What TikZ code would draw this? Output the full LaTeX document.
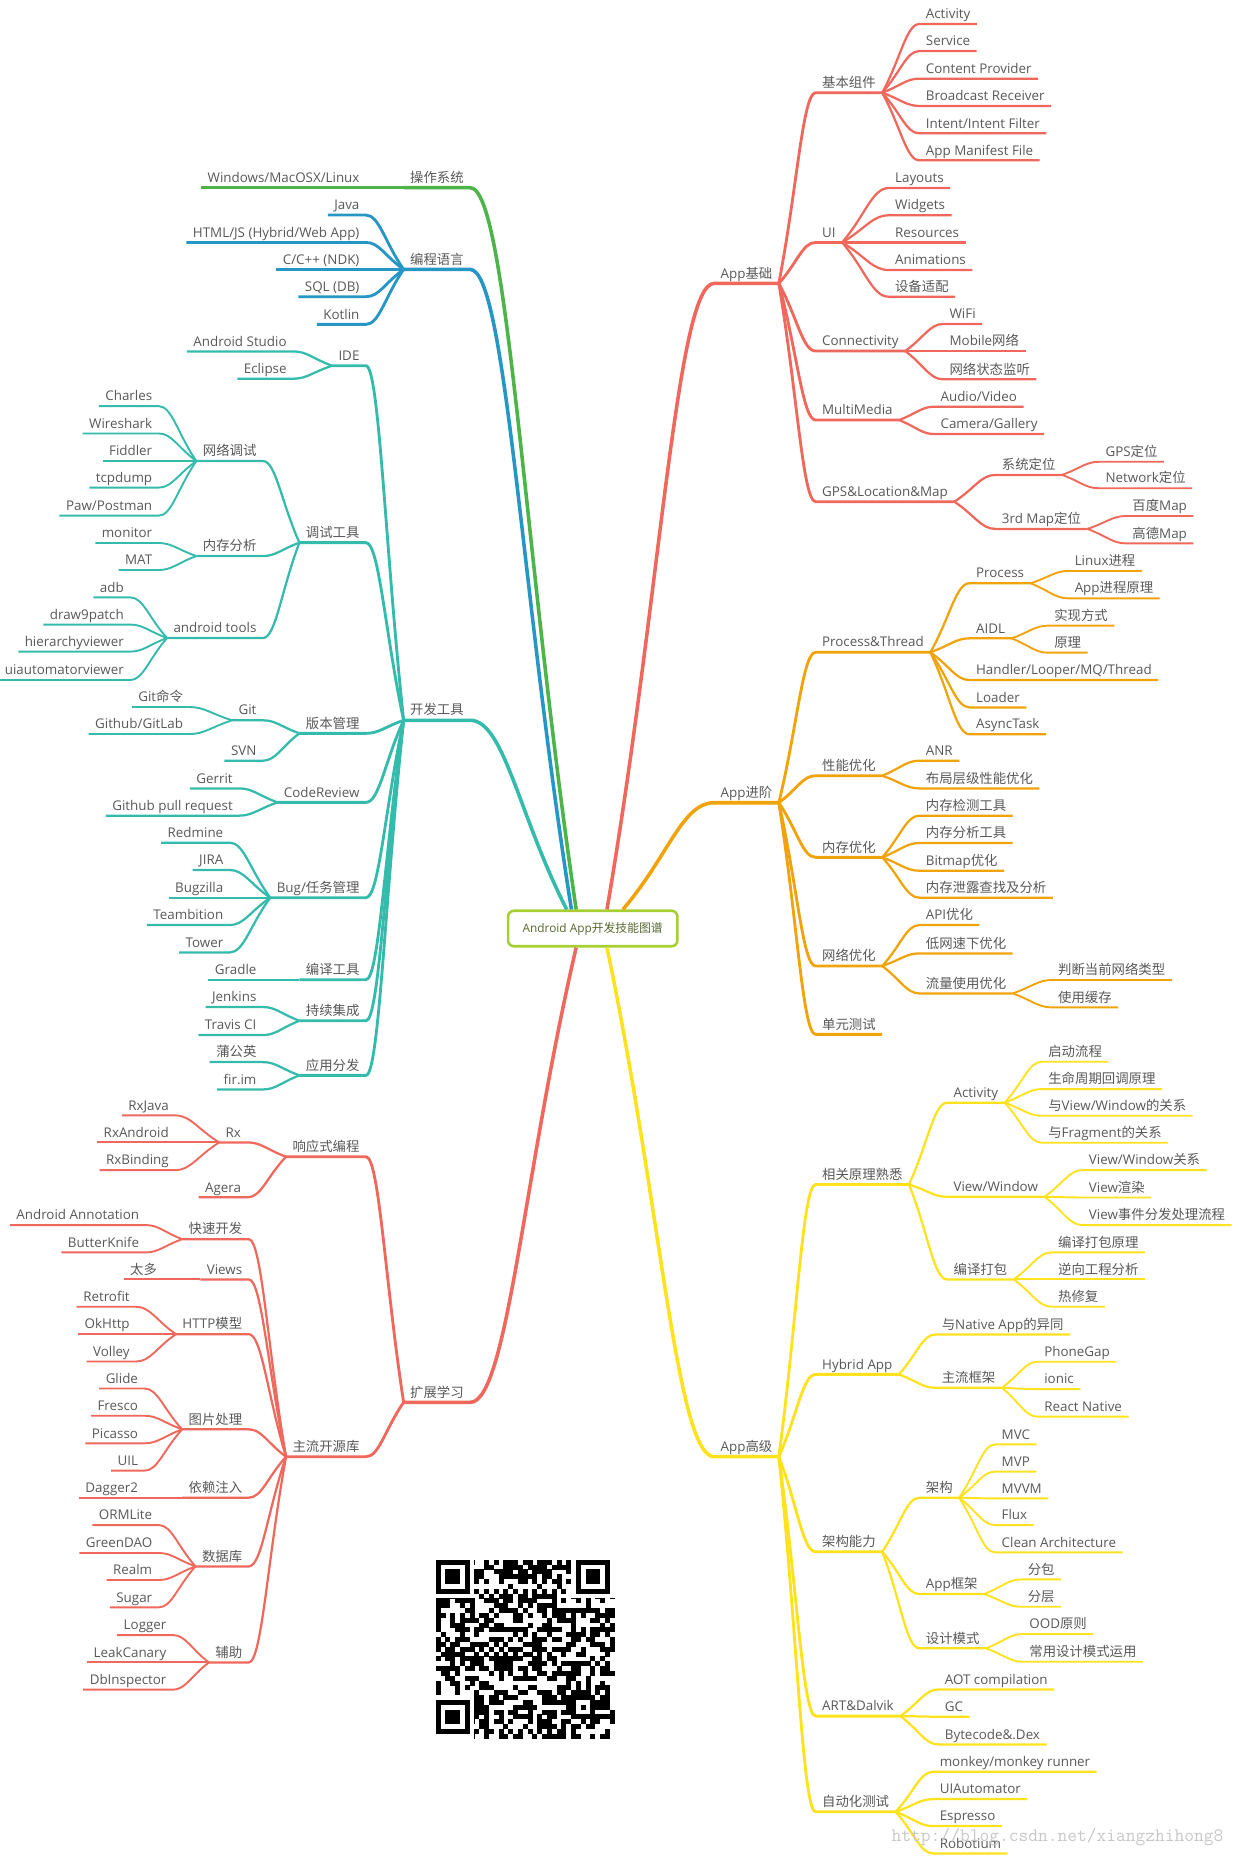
\documentclass[tikz,border=0pt]{standalone}
\usepackage{fontspec}
\setmainfont{Open Sans}
\newfontfamily\latinfont{Open Sans}
\newfontfamily\cjkfont{Noto Sans CJK SC}
\usetikzlibrary{calc}

% Chinese runs switch to the CJK font by themselves
\newXeTeXintercharclass\CJKclass
\newcount\charcnt
\charcnt="4E00
\loop\ifnum\charcnt<"A000
  \XeTeXcharclass\charcnt=\CJKclass
  \advance\charcnt by 1
\repeat
\charcnt=32
\loop\ifnum\charcnt<127
  \XeTeXcharclass\charcnt=0
  \advance\charcnt by 1
\repeat
\XeTeXinterchartoks 0 \CJKclass = {\cjkfont}
\XeTeXinterchartoks 4095 \CJKclass = {\cjkfont}
\XeTeXinterchartoks \CJKclass 0 = {\latinfont}
\XeTeXinterchartokenstate=1

\definecolor{cred}{RGB}{240,104,92}
\definecolor{corange}{RGB}{240,163,10}
\definecolor{cyellow}{RGB}{255,226,30}
\definecolor{cgreen}{RGB}{76,180,72}
\definecolor{cblue}{RGB}{38,150,196}
\definecolor{cteal}{RGB}{52,187,172}
\definecolor{boxgreen}{RGB}{166,208,50}
\definecolor{boxtext}{RGB}{88,104,48}
\definecolor{labelgray}{RGB}{88,88,88}

\tikzset{
  lbl/.style={inner xsep=5.5pt, inner ysep=4.5pt, outer sep=0pt, text depth=0pt,
    text=labelgray, font=\fontsize{11.3}{13}\selectfont},
  rn/.style={lbl, anchor=south west},
  ln/.style={lbl, anchor=south east},
  root/.style={draw=boxgreen, line width=2.2pt, rounded corners=5pt, fill=white,
    minimum width=143pt, minimum height=30pt, text=boxtext,
    font=\fontsize{10}{12}\selectfont},
  br1/.style={line width=3pt, line join=round},
  br2/.style={line width=2.4pt, line join=round},
  br3/.style={line width=1.9pt, line join=round},
  br4/.style={line width=1.6pt, line join=round},
  link/.style={to path={let \p1=(\tikztostart), \p2=(\tikztotarget) in
    .. controls ({(\x1+\x2)/2},{(\y1+\y2)/2}) and ({\x1+0.65*(\x2-\x1)},\y2) .. (\tikztotarget)}}
}

\begin{document}
\begin{tikzpicture}[x=1pt, y=-1pt]
\useasboundingbox (0,0) rectangle (1047,1568);

\node[root] (ctr) at (500.5,784) {Android App开发技能图谱};

% App基础
\node[rn] (base) at (603,239.3) {App基础};
\node[rn] (comp) at (688.7,78.3) {基本组件};
\node[rn] (ui) at (688.7,204.7) {UI};
\node[rn] (conn) at (688.7,296.4) {Connectivity};
\node[rn] (media) at (688.7,354.7) {MultiMedia};
\node[rn] (gps) at (688.7,423.6) {GPS\&Location\&Map};
\node[rn] (act) at (776.3,20.3) {Activity};
\node[rn] (svc) at (776.3,43.1) {Service};
\node[rn] (cp) at (776.3,66.4) {Content Provider};
\node[rn] (bcast) at (776.3,89.5) {Broadcast Receiver};
\node[rn] (intent) at (776.3,112.6) {Intent/Intent Filter};
\node[rn] (manifest) at (776.3,135.4) {App Manifest File};
\node[rn] (layouts) at (750.3,158.8) {Layouts};
\node[rn] (widgets) at (750.3,181.8) {Widgets};
\node[rn] (res) at (750.3,204.7) {Resources};
\node[rn] (anim) at (750.3,228) {Animations};
\node[rn] (adapt) at (750.3,250.5) {设备适配};
\node[rn] (wifi) at (796.3,273.6) {WiFi};
\node[rn] (mobile) at (796.3,296.4) {Mobile网络};
\node[rn] (netlisten) at (796.3,320.3) {网络状态监听};
\node[rn] (av) at (788.7,343.4) {Audio/Video};
\node[rn] (camera) at (788.7,366.5) {Camera/Gallery};
\node[rn] (sysloc) at (840.5,401) {系统定位};
\node[rn] (mapsdk) at (840.5,446.6) {3rd Map定位};
\node[rn] (gpsloc) at (928,389.9) {GPS定位};
\node[rn] (netloc) at (928,412.3) {Network定位};
\node[rn] (baidu) at (950.7,435.7) {百度Map};
\node[rn] (gaode) at (950.7,458.8) {高德Map};

% App进阶
\node[rn] (adv) at (603,677.8) {App进阶};
\node[rn] (pt) at (688.7,550.8) {Process\&Thread};
\node[rn] (perf) at (688.7,655) {性能优化};
\node[rn] (mem) at (688.7,723.9) {内存优化};
\node[rn] (net) at (688.7,815.7) {网络优化};
\node[rn] (unit) at (688.7,873.4) {单元测试};
\node[rn] (proc) at (818.7,492.5) {Process};
\node[rn] (aidl) at (818.7,539) {AIDL};
\node[rn] (handler) at (818.7,574.2) {Handler/Looper/MQ/Thread};
\node[rn] (loader) at (818.7,597.3) {Loader};
\node[rn] (async) at (818.7,620) {AsyncTask};
\node[rn] (linuxp) at (902,482.1) {Linux进程};
\node[rn] (appp) at (902,505.2) {App进程原理};
\node[rn] (aidlimpl) at (884.7,528.3) {实现方式};
\node[rn] (aidlbase) at (884.7,551.1) {原理};
\node[rn] (anr) at (776.3,642.3) {ANR};
\node[rn] (layer) at (776.3,665.7) {布局层级性能优化};
\node[rn] (memdet) at (776.3,688.7) {内存检测工具};
\node[rn] (memana) at (776.3,711.8) {内存分析工具};
\node[rn] (bitmap) at (776.3,735.2) {Bitmap优化};
\node[rn] (leak) at (776.3,758) {内存泄露查找及分析};
\node[rn] (api) at (776.3,781.1) {API优化};
\node[rn] (lowspeed) at (776.3,805) {低网速下优化};
\node[rn] (traffic) at (776.3,838.8) {流量使用优化};
\node[rn] (nettype) at (888,827.5) {判断当前网络类型};
\node[rn] (cache) at (888,850.6) {使用缓存};

% App高级
\node[rn] (pro) at (603,1230) {App高级};
\node[rn] (theory) at (688.7,1000.1) {相关原理熟悉};
\node[rn] (hybrid) at (688.7,1160.5) {Hybrid App};
\node[rn] (arch) at (688.7,1310.2) {架构能力};
\node[rn] (art) at (688.7,1449) {ART\&Dalvik};
\node[rn] (autotest) at (688.7,1529.8) {自动化测试};
\node[rn] (tact) at (799.7,931.1) {Activity};
\node[rn] (tview) at (799.7,1010.5) {View/Window};
\node[rn] (pack) at (799.7,1080.3) {编译打包};
\node[rn] (launch) at (879.7,896.5) {启动流程};
\node[rn] (lifecycle) at (879.7,919.6) {生命周期回调原理};
\node[rn] (actview) at (879.7,942.1) {与View/Window的关系};
\node[rn] (actfrag) at (879.7,964.9) {与Fragment的关系};
\node[rn] (vwrel) at (914,988) {View/Window关系};
\node[rn] (vrender) at (914,1011.1) {View渲染};
\node[rn] (vevent) at (914,1034.4) {View事件分发处理流程};
\node[rn] (packbase) at (888,1057.5) {编译打包原理};
\node[rn] (reverse) at (888,1080.3) {逆向工程分析};
\node[rn] (hotfix) at (888,1103.4) {热修复};
\node[rn] (native) at (789.7,1126.8) {与Native App的异同};
\node[rn] (hfw) at (789.7,1171.8) {主流框架};
\node[rn] (phonegap) at (876.3,1149.8) {PhoneGap};
\node[rn] (ionic) at (876.3,1172.9) {ionic};
\node[rn] (reactnative) at (876.3,1196.2) {React Native};
\node[rn] (archpat) at (776.3,1264.6) {架构};
\node[rn] (appfw) at (776.3,1346) {App框架};
\node[rn] (dp) at (776.3,1391.8) {设计模式};
\node[rn] (mvc) at (840.3,1219.6) {MVC};
\node[rn] (mvp) at (840.3,1242.6) {MVP};
\node[rn] (mvvm) at (840.3,1265.2) {MVVM};
\node[rn] (flux) at (840.3,1287.7) {Flux};
\node[rn] (clean) at (840.3,1310.8) {Clean Architecture};
\node[rn] (subpkg) at (862.3,1333.6) {分包};
\node[rn] (sublayer) at (862.3,1356.7) {分层};
\node[rn] (ood) at (863.7,1379.7) {OOD原则};
\node[rn] (patterns) at (863.7,1403.1) {常用设计模式运用};
\node[rn] (aot) at (792.3,1426.5) {AOT compilation};
\node[rn] (gc) at (792.3,1449.5) {GC};
\node[rn] (dex) at (792.3,1472.9) {Bytecode\&.Dex};
\node[rn] (monkey) at (788,1496) {monkey/monkey runner};
\node[rn] (uiauto) at (788,1519.1) {UIAutomator};
\node[rn] (espresso) at (788,1541.9) {Espresso};
\node[rn] (robotium) at (788,1565) {Robotium};

% 操作系统, 编程语言
\node[ln] (os) at (397,158.5) {操作系统};
\node[ln] (oslist) at (309,158.5) {Windows/MacOSX/Linux};
\node[ln] (lang) at (397,227.5) {编程语言};
\node[ln] (java) at (309,181.6) {Java};
\node[ln] (html) at (309,204.7) {HTML/JS (Hybrid/Web App)};
\node[ln] (cpp) at (309,227.5) {C/C++ (NDK)};
\node[ln] (sql) at (309,250.5) {SQL (DB)};
\node[ln] (kotlin) at (309,273.9) {Kotlin};

% 开发工具
\node[ln] (tools) at (397,608.2) {开发工具};
\node[ln] (ide) at (309,308.8) {IDE};
\node[ln] (debug) at (309,458.2) {调试工具};
\node[ln] (vcs) at (309,619.2) {版本管理};
\node[ln] (review) at (309,677.5) {CodeReview};
\node[ln] (bugs) at (309,758) {Bug/任务管理};
\node[ln] (buildtool) at (309,827.2) {编译工具};
\node[ln] (ci) at (309,861.9) {持续集成};
\node[ln] (dist) at (309,908) {应用分发};
\node[ln] (studio) at (247.5,296.7) {Android Studio};
\node[ln] (eclipse) at (247.5,319.8) {Eclipse};
\node[ln] (netdbg) at (222,389.3) {网络调试};
\node[ln] (memdbg) at (222,469.5) {内存分析};
\node[ln] (atools) at (222,538.7) {android tools};
\node[ln] (charles) at (134,342.9) {Charles};
\node[ln] (wireshark) at (134,366) {Wireshark};
\node[ln] (fiddler) at (134,389.3) {Fiddler};
\node[ln] (tcpdump) at (134,411.7) {tcpdump};
\node[ln] (postman) at (134,435.4) {Paw/Postman};
\node[ln] (monitor) at (134,458.5) {monitor};
\node[ln] (mat) at (134,481.3) {MAT};
\node[ln] (adb) at (110,504.4) {adb};
\node[ln] (ninepatch) at (110,527.4) {draw9patch};
\node[ln] (hierarchy) at (110,550.2) {hierarchyviewer};
\node[ln] (uiviewer) at (110,574.2) {uiautomatorviewer};
\node[ln] (git) at (222,608.2) {Git};
\node[ln] (svn) at (222,642.3) {SVN};
\node[ln] (gitcmd) at (160,597) {Git命令};
\node[ln] (github) at (160,619.8) {Github/GitLab};
\node[ln] (gerrit) at (202,665.7) {Gerrit};
\node[ln] (pullreq) at (202,688.7) {Github pull request};
\node[ln] (redmine) at (194,711.5) {Redmine};
\node[ln] (jira) at (194,734.6) {JIRA};
\node[ln] (bugzilla) at (194,758) {Bugzilla};
\node[ln] (teambition) at (194,781.1) {Teambition};
\node[ln] (tower) at (194,804.2) {Tower};
\node[ln] (gradle) at (222,827.2) {Gradle};
\node[ln] (jenkins) at (222,850.3) {Jenkins};
\node[ln] (travis) at (222,874) {Travis CI};
\node[ln] (pgyer) at (222,896.8) {蒲公英};
\node[ln] (firim) at (222,919.9) {fir.im};

% 扩展学习
\node[ln] (ext) at (397,1184.1) {扩展学习};
\node[ln] (reactive) at (309,976.7) {响应式编程};
\node[ln] (libs) at (309,1230) {主流开源库};
\node[ln] (rx) at (209,964.6) {Rx};
\node[ln] (agera) at (209,1011) {Agera};
\node[ln] (rxjava) at (148,941.8) {RxJava};
\node[ln] (rxandroid) at (148,964.6) {RxAndroid};
\node[ln] (rxbinding) at (148,988) {RxBinding};
\node[ln] (fastdev) at (210,1046.3) {快速开发};
\node[ln] (views) at (210,1080.3) {Views};
\node[ln] (http) at (210,1126.5) {HTTP模型};
\node[ln] (img) at (210,1206.9) {图片处理};
\node[ln] (inject) at (210,1264.6) {依赖注入};
\node[ln] (db) at (210,1322.6) {数据库};
\node[ln] (helper) at (210,1403.7) {辅助};
\node[ln] (annot) at (123,1034.4) {Android Annotation};
\node[ln] (butter) at (123,1057.5) {ButterKnife};
\node[ln] (toomany) at (138,1080.3) {太多};
\node[ln] (retrofit) at (115,1103.4) {Retrofit};
\node[ln] (okhttp) at (115,1126.5) {OkHttp};
\node[ln] (volley) at (115,1149.6) {Volley};
\node[ln] (glide) at (122,1172.4) {Glide};
\node[ln] (fresco) at (122,1195.4) {Fresco};
\node[ln] (picasso) at (122,1218.7) {Picasso};
\node[ln] (uil) at (122,1241.8) {UIL};
\node[ln] (dagger) at (122,1264.6) {Dagger2};
\node[ln] (ormlite) at (134,1287.7) {ORMLite};
\node[ln] (greendao) at (134,1311.3) {GreenDAO};
\node[ln] (realm) at (134,1334.1) {Realm};
\node[ln] (sugar) at (134,1357.2) {Sugar};
\node[ln] (logger) at (146,1380.6) {Logger};
\node[ln] (leakcanary) at (146,1403.7) {LeakCanary};
\node[ln] (dbinsp) at (146,1426.7) {DbInspector};

% main branches
\draw[br1,cteal] ([xshift=-22pt]ctr.north) to[link] (tools.south east) -- (tools.south west);
\draw[br1,cblue] ([xshift=-18pt]ctr.north) to[link] (lang.south east) -- (lang.south west);
\draw[br1,cgreen] ([xshift=-14pt]ctr.north) to[link] (os.south east) -- (os.south west);
\draw[br1,cred] ([xshift=-14pt]ctr.south) to[link] (ext.south east) -- (ext.south west);
\draw[br1,cred] ([xshift=12pt]ctr.north) to[link] (base.south west) -- (base.south east);
\draw[br1,corange] ([xshift=25.5pt]ctr.north) to[link] (adv.south west) -- (adv.south east);
\draw[br1,cyellow] ([xshift=12pt]ctr.south) to[link] (pro.south west) -- (pro.south east);

% App基础 links
\foreach \c in {comp,ui,conn,media,gps}
  \draw[br2,cred] (base.south east) to[link] (\c.south west) -- (\c.south east);
\foreach \c in {act,svc,cp,bcast,intent,manifest}
  \draw[br3,cred] (comp.south east) to[link] (\c.south west) -- (\c.south east);
\foreach \c in {layouts,widgets,res,anim,adapt}
  \draw[br3,cred] (ui.south east) to[link] (\c.south west) -- (\c.south east);
\foreach \c in {wifi,mobile,netlisten}
  \draw[br3,cred] (conn.south east) to[link] (\c.south west) -- (\c.south east);
\foreach \c in {av,camera}
  \draw[br3,cred] (media.south east) to[link] (\c.south west) -- (\c.south east);
\foreach \c in {sysloc,mapsdk}
  \draw[br3,cred] (gps.south east) to[link] (\c.south west) -- (\c.south east);
\foreach \c in {gpsloc,netloc}
  \draw[br4,cred] (sysloc.south east) to[link] (\c.south west) -- (\c.south east);
\foreach \c in {baidu,gaode}
  \draw[br4,cred] (mapsdk.south east) to[link] (\c.south west) -- (\c.south east);

% App进阶 links
\foreach \c in {pt,perf,mem,net,unit}
  \draw[br2,corange] (adv.south east) to[link] (\c.south west) -- (\c.south east);
\foreach \c in {proc,aidl,handler,loader,async}
  \draw[br3,corange] (pt.south east) to[link] (\c.south west) -- (\c.south east);
\foreach \c in {linuxp,appp}
  \draw[br4,corange] (proc.south east) to[link] (\c.south west) -- (\c.south east);
\foreach \c in {aidlimpl,aidlbase}
  \draw[br4,corange] (aidl.south east) to[link] (\c.south west) -- (\c.south east);
\foreach \c in {anr,layer}
  \draw[br3,corange] (perf.south east) to[link] (\c.south west) -- (\c.south east);
\foreach \c in {memdet,memana,bitmap,leak}
  \draw[br3,corange] (mem.south east) to[link] (\c.south west) -- (\c.south east);
\foreach \c in {api,lowspeed,traffic}
  \draw[br3,corange] (net.south east) to[link] (\c.south west) -- (\c.south east);
\foreach \c in {nettype,cache}
  \draw[br4,corange] (traffic.south east) to[link] (\c.south west) -- (\c.south east);

% App高级 links
\foreach \c in {theory,hybrid,arch,art,autotest}
  \draw[br2,cyellow] (pro.south east) to[link] (\c.south west) -- (\c.south east);
\foreach \c in {tact,tview,pack}
  \draw[br3,cyellow] (theory.south east) to[link] (\c.south west) -- (\c.south east);
\foreach \c in {launch,lifecycle,actview,actfrag}
  \draw[br4,cyellow] (tact.south east) to[link] (\c.south west) -- (\c.south east);
\foreach \c in {vwrel,vrender,vevent}
  \draw[br4,cyellow] (tview.south east) to[link] (\c.south west) -- (\c.south east);
\foreach \c in {packbase,reverse,hotfix}
  \draw[br4,cyellow] (pack.south east) to[link] (\c.south west) -- (\c.south east);
\foreach \c in {native,hfw}
  \draw[br3,cyellow] (hybrid.south east) to[link] (\c.south west) -- (\c.south east);
\foreach \c in {phonegap,ionic,reactnative}
  \draw[br4,cyellow] (hfw.south east) to[link] (\c.south west) -- (\c.south east);
\foreach \c in {archpat,appfw,dp}
  \draw[br3,cyellow] (arch.south east) to[link] (\c.south west) -- (\c.south east);
\foreach \c in {mvc,mvp,mvvm,flux,clean}
  \draw[br4,cyellow] (archpat.south east) to[link] (\c.south west) -- (\c.south east);
\foreach \c in {subpkg,sublayer}
  \draw[br4,cyellow] (appfw.south east) to[link] (\c.south west) -- (\c.south east);
\foreach \c in {ood,patterns}
  \draw[br4,cyellow] (dp.south east) to[link] (\c.south west) -- (\c.south east);
\foreach \c in {aot,gc,dex}
  \draw[br3,cyellow] (art.south east) to[link] (\c.south west) -- (\c.south east);
\foreach \c in {monkey,uiauto,espresso,robotium}
  \draw[br3,cyellow] (autotest.south east) to[link] (\c.south west) -- (\c.south east);

% left side links
\draw[br2,cgreen] (os.south west) to[link] (oslist.south east) -- (oslist.south west);
\foreach \c in {java,html,cpp,sql,kotlin}
  \draw[br2,cblue] (lang.south west) to[link] (\c.south east) -- (\c.south west);
\foreach \c in {ide,debug,vcs,review,bugs,buildtool,ci,dist}
  \draw[br2,cteal] (tools.south west) to[link] (\c.south east) -- (\c.south west);
\foreach \c in {studio,eclipse}
  \draw[br3,cteal] (ide.south west) to[link] (\c.south east) -- (\c.south west);
\foreach \c in {netdbg,memdbg,atools}
  \draw[br3,cteal] (debug.south west) to[link] (\c.south east) -- (\c.south west);
\foreach \c in {charles,wireshark,fiddler,tcpdump,postman}
  \draw[br4,cteal] (netdbg.south west) to[link] (\c.south east) -- (\c.south west);
\foreach \c in {monitor,mat}
  \draw[br4,cteal] (memdbg.south west) to[link] (\c.south east) -- (\c.south west);
\foreach \c in {adb,ninepatch,hierarchy,uiviewer}
  \draw[br4,cteal] (atools.south west) to[link] (\c.south east) -- (\c.south west);
\foreach \c in {git,svn}
  \draw[br3,cteal] (vcs.south west) to[link] (\c.south east) -- (\c.south west);
\foreach \c in {gitcmd,github}
  \draw[br4,cteal] (git.south west) to[link] (\c.south east) -- (\c.south west);
\foreach \c in {gerrit,pullreq}
  \draw[br3,cteal] (review.south west) to[link] (\c.south east) -- (\c.south west);
\foreach \c in {redmine,jira,bugzilla,teambition,tower}
  \draw[br3,cteal] (bugs.south west) to[link] (\c.south east) -- (\c.south west);
\draw[br3,cteal] (buildtool.south west) to[link] (gradle.south east) -- (gradle.south west);
\foreach \c in {jenkins,travis}
  \draw[br3,cteal] (ci.south west) to[link] (\c.south east) -- (\c.south west);
\foreach \c in {pgyer,firim}
  \draw[br3,cteal] (dist.south west) to[link] (\c.south east) -- (\c.south west);
\foreach \c in {reactive,libs}
  \draw[br2,cred] (ext.south west) to[link] (\c.south east) -- (\c.south west);
\foreach \c in {rx,agera}
  \draw[br3,cred] (reactive.south west) to[link] (\c.south east) -- (\c.south west);
\foreach \c in {rxjava,rxandroid,rxbinding}
  \draw[br4,cred] (rx.south west) to[link] (\c.south east) -- (\c.south west);
\foreach \c in {fastdev,views,http,img,inject,db,helper}
  \draw[br3,cred] (libs.south west) to[link] (\c.south east) -- (\c.south west);
\foreach \c in {annot,butter}
  \draw[br4,cred] (fastdev.south west) to[link] (\c.south east) -- (\c.south west);
\draw[br4,cred] (views.south west) to[link] (toomany.south east) -- (toomany.south west);
\foreach \c in {retrofit,okhttp,volley}
  \draw[br4,cred] (http.south west) to[link] (\c.south east) -- (\c.south west);
\foreach \c in {glide,fresco,picasso,uil}
  \draw[br4,cred] (img.south west) to[link] (\c.south east) -- (\c.south west);
\draw[br4,cred] (inject.south west) to[link] (dagger.south east) -- (dagger.south west);
\foreach \c in {ormlite,greendao,realm,sugar}
  \draw[br4,cred] (db.south west) to[link] (\c.south east) -- (\c.south west);
\foreach \c in {logger,leakcanary,dbinsp}
  \draw[br4,cred] (helper.south west) to[link] (\c.south east) -- (\c.south west);

% QR code
\begin{scope}[xshift=368pt, yshift=-1317pt, x=4.08pt, y=-4.08pt]
  \pgfmathsetseed{4242}
  \foreach \i in {0,...,36}
    \foreach \j in {0,...,36}{
      \pgfmathtruncatemacro\bit{rnd<0.5}
      \ifnum\bit=1 \fill (\i,\j) rectangle ++(1.03,1.03); \fi
    }
  \foreach \k in {8,...,28}{
    \pgfmathtruncatemacro\bit{mod(\k+1,2)}
    \ifnum\bit=1 \fill (\k,6) rectangle ++(1,1); \fill (6,\k) rectangle ++(1,1);
    \else \fill[white] (\k,6) rectangle ++(1,1); \fill[white] (6,\k) rectangle ++(1,1); \fi
  }
  \foreach \a/\b in {0/0,29/0,0/29}{
    \fill[white] (\a-1,\b-1) rectangle ++(9,9);
    \fill (\a,\b) rectangle ++(7,7);
    \fill[white] (\a+1,\b+1) rectangle ++(5,5);
    \fill (\a+2,\b+2) rectangle ++(3,3);
  }
  \fill (28,28) rectangle ++(5,5);
  \fill[white] (29,29) rectangle ++(3,3);
  \fill (30,30) rectangle ++(1,1);
\end{scope}

% watermark
\node[inner sep=0pt, text=black!22, font=\ttfamily\fontsize{16}{18}\selectfont] (mark) at (893,1551) {http://blog.csdn.net/xiangzhihong8};
\end{tikzpicture}
\end{document}
